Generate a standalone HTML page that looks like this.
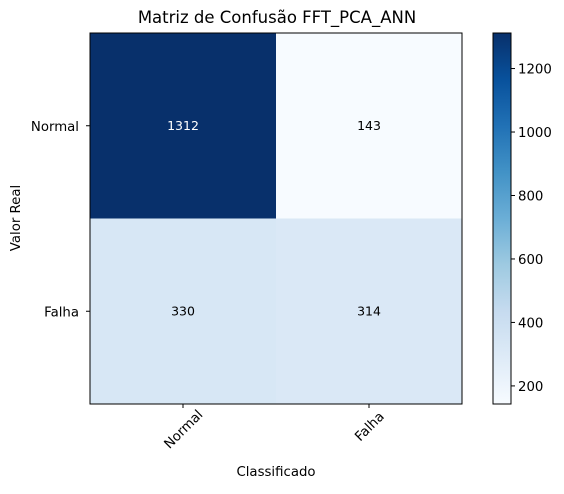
<!DOCTYPE html>
<html><head><meta charset="utf-8"><style>
body{margin:0;background:#fff;width:564px;height:489px;overflow:hidden}
svg text{font-family:"DejaVu Sans","Liberation Sans",sans-serif}
</style></head><body>
<svg id="chart" width="564" height="489" xmlns="http://www.w3.org/2000/svg">
<defs><linearGradient id="cbg" x1="0" y1="1" x2="0" y2="0">
<stop offset="0" stop-color="#f7fbff"/><stop offset="0.125" stop-color="#deebf7"/><stop offset="0.25" stop-color="#c6dbef"/><stop offset="0.375" stop-color="#9ecae1"/><stop offset="0.5" stop-color="#6baed6"/><stop offset="0.625" stop-color="#4292c6"/><stop offset="0.75" stop-color="#2171b5"/><stop offset="0.875" stop-color="#08519c"/><stop offset="1" stop-color="#08306b"/></linearGradient></defs>
<text x="277" y="23" font-size="16.5" text-anchor="middle">Matriz de Confusão FFT_PCA_ANN</text>
<g id="cells"></g>
<rect x="90" y="33" width="372" height="371" fill="none" stroke="#000" stroke-width="1"/>
<g id="axes"></g>
<text x="20" y="218" font-size="13.3" text-anchor="middle" transform="rotate(-90 20 218)">Valor Real</text>
<text x="276" y="476" font-size="13.3" text-anchor="middle">Classificado</text>
<rect x="493" y="33" width="18" height="371" fill="url(#cbg)" stroke="#000" stroke-width="1"/>
<g id="cbticks"></g>
</svg>
<script>
const categories=["Normal","Falha"];
const matrix=[[1312,143],[330,314]];
const cbTicks=[200,400,600,800,1000,1200];
const NS="http://www.w3.org/2000/svg";
const blues=["#f7fbff","#deebf7","#c6dbef","#9ecae1","#6baed6","#4292c6","#2171b5","#08519c","#08306b"];
const flat=matrix.flat();const vmin=Math.min(...flat),vmax=Math.max(...flat);
function hex(c){return [1,3,5].map(i=>parseInt(c.substr(i,2),16));}
function cmap(v){let t=(v-vmin)/(vmax-vmin);t=Math.max(0,Math.min(1,t))*8;const i=Math.min(7,Math.floor(t)),f=t-i;const a=hex(blues[i]),b=hex(blues[i+1]);return "rgb("+a.map((x,k)=>Math.round(x+(b[k]-x)*f)).join(",")+")";}
const x0=90,y0=33,W=372,H=371,n=categories.length,cw=W/n,ch=H/n;
function el(t,a,p){const e=document.createElementNS(NS,t);for(const k in a)e.setAttribute(k,a[k]);p.appendChild(e);return e;}
const cells=document.getElementById('cells');
matrix.forEach((row,i)=>row.forEach((v,j)=>{
 const r=el('rect',{x:x0+j*cw,y:y0+i*ch,width:cw+0.5,height:ch+0.5,fill:cmap(v)},cells);
 
 
 const t=el('text',{x:x0+(j+0.5)*cw,y:y0+(i+0.5)*ch+4,'font-size':12.5,'text-anchor':'middle',fill:v>vmax/2?'#fff':'#000'},cells);
 t.textContent=v;
 
 
}));
const axes=document.getElementById('axes');
categories.forEach((c,i)=>{
 const yc=y0+(i+0.5)*ch;
 el('line',{x1:x0-4,x2:x0,y1:yc,y2:yc,stroke:'#000'},axes);
 const t=el('text',{x:x0-11,y:yc+5,'font-size':13.3,'text-anchor':'end'},axes);t.textContent=c;
 
 
 const xc=x0+(i+0.5)*cw;
 el('line',{x1:xc,x2:xc,y1:y0+H,y2:y0+H+4,stroke:'#000'},axes);
 const cy=y0+H+8+c.length*2.8;
 const tx=el('text',{x:xc,y:cy+5,'font-size':13.3,'text-anchor':'middle',transform:'rotate(-45 '+xc+' '+cy+')'},axes);tx.textContent=c;
 
 
});
const cb=document.getElementById('cbticks');
cbTicks.forEach(v=>{
 const y=y0+H-(v-vmin)/(vmax-vmin)*H;
 el('line',{x1:511,x2:515,y1:y,y2:y,stroke:'#000'},cb);
 const t=el('text',{x:518,y:y+5,'font-size':13.3},cb);t.textContent=v;
 
 
});
</script>
</body></html>
